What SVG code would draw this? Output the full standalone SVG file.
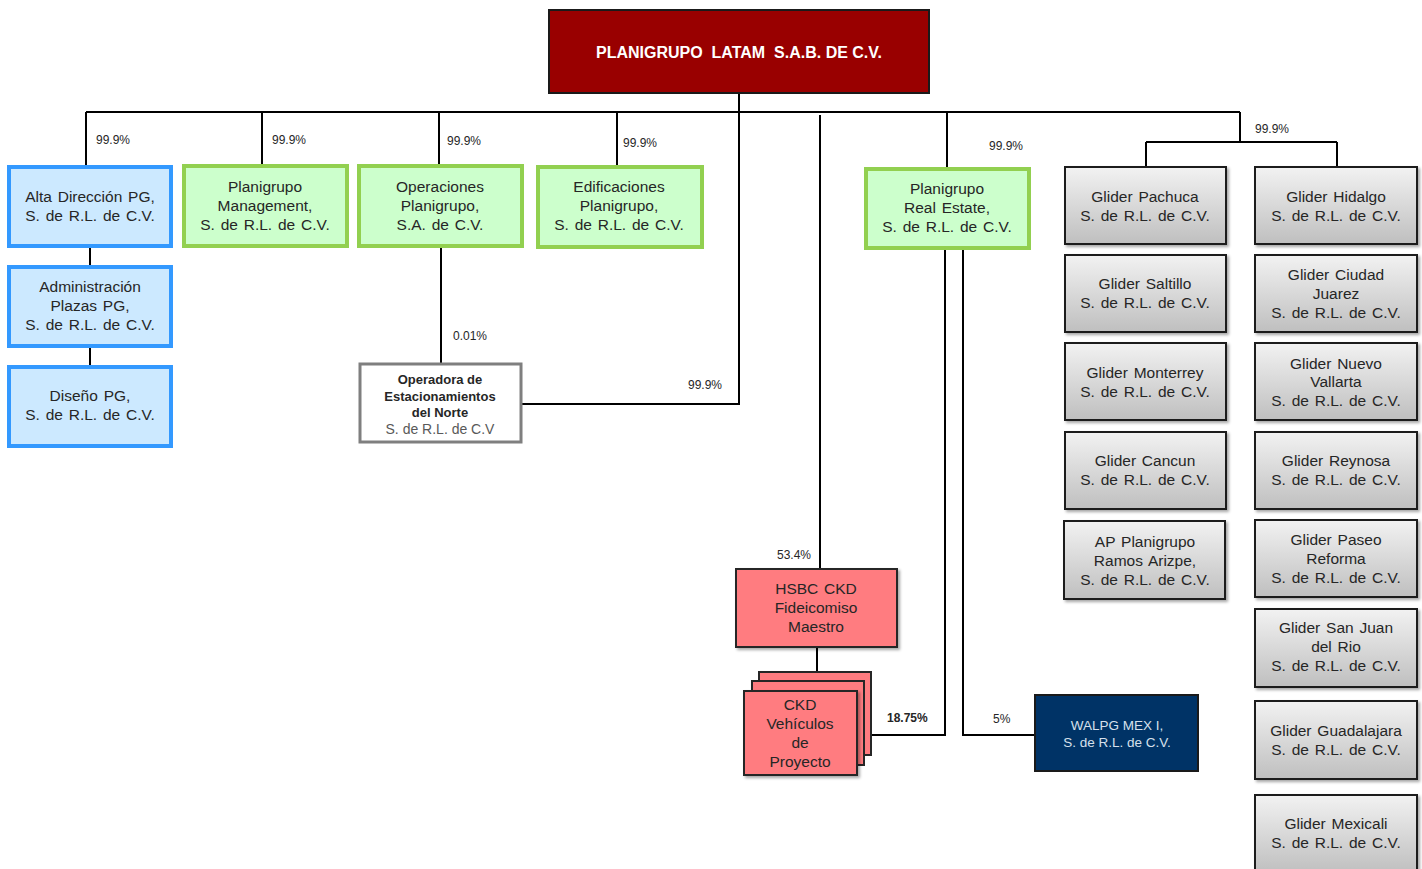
<svg xmlns="http://www.w3.org/2000/svg" width="1422" height="869" viewBox="0 0 1422 869">
<style>
text{font-family:"Liberation Sans",Arial,sans-serif;fill:#262626;text-anchor:middle}
.t{font-size:15.5px;word-spacing:1.5px}
.p{font-size:12px;text-anchor:start}
.b{font-weight:bold}
.blue{fill:#cce9ff;stroke:#3399ff;stroke-width:4}
.green{fill:#ccffcc;stroke:#92d050;stroke-width:4}
.gray{fill:url(#gg);stroke:#1a1a1a;stroke-width:2}
.pink{fill:#ff7c80;stroke:#262626;stroke-width:2}
.ln{fill:none;stroke:#000;stroke-width:2}
</style>
<defs>
<linearGradient id="gg" x1="0" y1="0" x2="0" y2="1">
<stop offset="0" stop-color="#f2f2f2"/>
<stop offset="1" stop-color="#bfbfbf"/>
</linearGradient>
<filter id="sh" x="-10%" y="-10%" width="125%" height="130%">
<feDropShadow dx="2" dy="2" stdDeviation="1.5" flood-color="#000" flood-opacity="0.35"/>
</filter>
</defs>

<g id="connectors">
<path class="ln" d="M86,112 H1240 M86,112 V166 M262,112 V165 M439,112 V166 M617,112 V166 M947,112 V168 M1240,112 V142 M1146,142 H1337 M1146,142 V166 M1337,142 V166"/>
<path class="ln" d="M739,93 V404 H522"/>
<path class="ln" d="M820,115 V568"/>
<path class="ln" d="M90,246 V267 M90,346 V367"/>
<path class="ln" d="M441,246 V364"/>
<path class="ln" d="M817,647 V672"/>
<path class="ln" d="M945,248 V735 H871"/>
<path class="ln" d="M963,248 V735 H1035"/>
<text class="p" x="96" y="144">99.9%</text>
<text class="p" x="272" y="144">99.9%</text>
<text class="p" x="447" y="145">99.9%</text>
<text class="p" x="623" y="147">99.9%</text>
<text class="p" x="989" y="150">99.9%</text>
<text class="p" x="1255" y="133">99.9%</text>
<text class="p" x="688" y="389">99.9%</text>
<text class="p" x="453" y="340">0.01%</text>
<text class="p" x="777" y="559">53.4%</text>
<text class="p b" x="887" y="722">18.75%</text>
<text class="p" x="993" y="723">5%</text>
</g>

<g id="planigrupo-latam">
<rect x="549" y="10" width="380" height="83" fill="#990000" stroke="#1a1a1a" stroke-width="2"/>
<text class="b" x="739" y="58" font-size="16" xml:space="preserve" style="fill:#fff">PLANIGRUPO  LATAM  S.A.B. DE C.V.</text>
</g>

<g id="alta-direccion">
<rect class="blue" x="9" y="167" width="162" height="79"/>
<text class="t" x="90" y="202">Alta Dirección PG,</text>
<text class="t" x="90" y="221">S. de R.L. de C.V.</text>
</g>
<g id="administracion-plazas">
<rect class="blue" x="9" y="267" width="162" height="79"/>
<text class="t" x="90" y="292">Administración</text>
<text class="t" x="90" y="311">Plazas PG,</text>
<text class="t" x="90" y="330">S. de R.L. de C.V.</text>
</g>
<g id="diseno">
<rect class="blue" x="9" y="367" width="162" height="79"/>
<text class="t" x="90" y="401">Diseño PG,</text>
<text class="t" x="90" y="420">S. de R.L. de C.V.</text>
</g>

<g id="management">
<rect class="green" x="184" y="166" width="163" height="80"/>
<text class="t" x="265" y="192">Planigrupo</text>
<text class="t" x="265" y="211">Management,</text>
<text class="t" x="265" y="230">S. de R.L. de C.V.</text>
</g>
<g id="operaciones">
<rect class="green" x="359" y="166" width="163" height="80"/>
<text class="t" x="440" y="192">Operaciones</text>
<text class="t" x="440" y="211">Planigrupo,</text>
<text class="t" x="440" y="230">S.A. de C.V.</text>
</g>
<g id="edificaciones">
<rect class="green" x="538" y="167" width="164" height="80"/>
<text class="t" x="619" y="192">Edificaciones</text>
<text class="t" x="619" y="211">Planigrupo,</text>
<text class="t" x="619" y="230">S. de R.L. de C.V.</text>
</g>
<g id="real-estate">
<rect class="green" x="866" y="169" width="163" height="79"/>
<text class="t" x="947" y="194">Planigrupo</text>
<text class="t" x="947" y="213">Real Estate,</text>
<text class="t" x="947" y="232">S. de R.L. de C.V.</text>
</g>

<g id="operadora">
<rect x="360" y="364" width="161" height="78" fill="#fff" stroke="#7f7f7f" stroke-width="3"/>
<text class="b" x="440" y="384" font-size="13">Operadora de</text>
<text class="b" x="440" y="401" font-size="13">Estacionamientos</text>
<text class="b" x="440" y="417" font-size="13">del Norte</text>
<text x="440" y="434" font-size="14" style="fill:#595959">S. de R.L. de C.V</text>
</g>

<g id="hsbc">
<rect class="pink" x="736" y="569" width="161" height="78" filter="url(#sh)"/>
<text class="t" x="816" y="594">HSBC CKD</text>
<text class="t" x="816" y="613">Fideicomiso</text>
<text class="t" x="816" y="632">Maestro</text>
</g>

<g id="ckd-vehiculos">
<rect class="pink" x="759" y="672" width="112" height="83"/>
<rect class="pink" x="752" y="681" width="112" height="84"/>
<rect class="pink" x="744" y="691" width="113" height="84" filter="url(#sh)"/>
<text class="t" x="800" y="710">CKD</text>
<text class="t" x="800" y="729">Vehículos</text>
<text class="t" x="800" y="748">de</text>
<text class="t" x="800" y="767">Proyecto</text>
</g>

<g id="walpg">
<rect x="1035" y="695" width="163" height="76" fill="#003366" stroke="#1a1a1a" stroke-width="2"/>
<text x="1117" y="730" font-size="13.5" style="fill:#d6e0ec">WALPG MEX I,</text>
<text x="1117" y="747" font-size="13.5" style="fill:#d6e0ec">S. de R.L. de C.V.</text>
</g>

<g id="glider-pachuca">
<rect class="gray" x="1065" y="167" width="161" height="77" filter="url(#sh)"/>
<text class="t" x="1145" y="202">Glider Pachuca</text>
<text class="t" x="1145" y="221">S. de R.L. de C.V.</text>
</g>
<g id="glider-saltillo">
<rect class="gray" x="1065" y="255" width="161" height="77" filter="url(#sh)"/>
<text class="t" x="1145" y="289">Glider Saltillo</text>
<text class="t" x="1145" y="308">S. de R.L. de C.V.</text>
</g>
<g id="glider-monterrey">
<rect class="gray" x="1065" y="343" width="161" height="77" filter="url(#sh)"/>
<text class="t" x="1145" y="378">Glider Monterrey</text>
<text class="t" x="1145" y="397">S. de R.L. de C.V.</text>
</g>
<g id="glider-cancun">
<rect class="gray" x="1065" y="432" width="161" height="77" filter="url(#sh)"/>
<text class="t" x="1145" y="466">Glider Cancun</text>
<text class="t" x="1145" y="485">S. de R.L. de C.V.</text>
</g>
<g id="ap-ramos-arizpe">
<rect class="gray" x="1064" y="521" width="161" height="78" filter="url(#sh)"/>
<text class="t" x="1145" y="547">AP Planigrupo</text>
<text class="t" x="1145" y="566">Ramos Arizpe,</text>
<text class="t" x="1145" y="585">S. de R.L. de C.V.</text>
</g>

<g id="glider-hidalgo">
<rect class="gray" x="1255" y="167" width="162" height="77" filter="url(#sh)"/>
<text class="t" x="1336" y="202">Glider Hidalgo</text>
<text class="t" x="1336" y="221">S. de R.L. de C.V.</text>
</g>
<g id="glider-ciudad-juarez">
<rect class="gray" x="1255" y="255" width="162" height="77" filter="url(#sh)"/>
<text class="t" x="1336" y="280">Glider Ciudad</text>
<text class="t" x="1336" y="299">Juarez</text>
<text class="t" x="1336" y="318">S. de R.L. de C.V.</text>
</g>
<g id="glider-nuevo-vallarta">
<rect class="gray" x="1255" y="343" width="162" height="77" filter="url(#sh)"/>
<text class="t" x="1336" y="369">Glider Nuevo</text>
<text class="t" x="1336" y="387">Vallarta</text>
<text class="t" x="1336" y="406">S. de R.L. de C.V.</text>
</g>
<g id="glider-reynosa">
<rect class="gray" x="1255" y="432" width="162" height="77" filter="url(#sh)"/>
<text class="t" x="1336" y="466">Glider Reynosa</text>
<text class="t" x="1336" y="485">S. de R.L. de C.V.</text>
</g>
<g id="glider-paseo-reforma">
<rect class="gray" x="1255" y="520" width="162" height="77" filter="url(#sh)"/>
<text class="t" x="1336" y="545">Glider Paseo</text>
<text class="t" x="1336" y="564">Reforma</text>
<text class="t" x="1336" y="583">S. de R.L. de C.V.</text>
</g>
<g id="glider-san-juan">
<rect class="gray" x="1255" y="609" width="162" height="78" filter="url(#sh)"/>
<text class="t" x="1336" y="633">Glider San Juan</text>
<text class="t" x="1336" y="652">del Rio</text>
<text class="t" x="1336" y="671">S. de R.L. de C.V.</text>
</g>
<g id="glider-guadalajara">
<rect class="gray" x="1255" y="701" width="162" height="78" filter="url(#sh)"/>
<text class="t" x="1336" y="736">Glider Guadalajara</text>
<text class="t" x="1336" y="755">S. de R.L. de C.V.</text>
</g>
<g id="glider-mexicali">
<rect class="gray" x="1255" y="795" width="162" height="78" filter="url(#sh)"/>
<text class="t" x="1336" y="829">Glider Mexicali</text>
<text class="t" x="1336" y="848">S. de R.L. de C.V.</text>
</g>
</svg>
